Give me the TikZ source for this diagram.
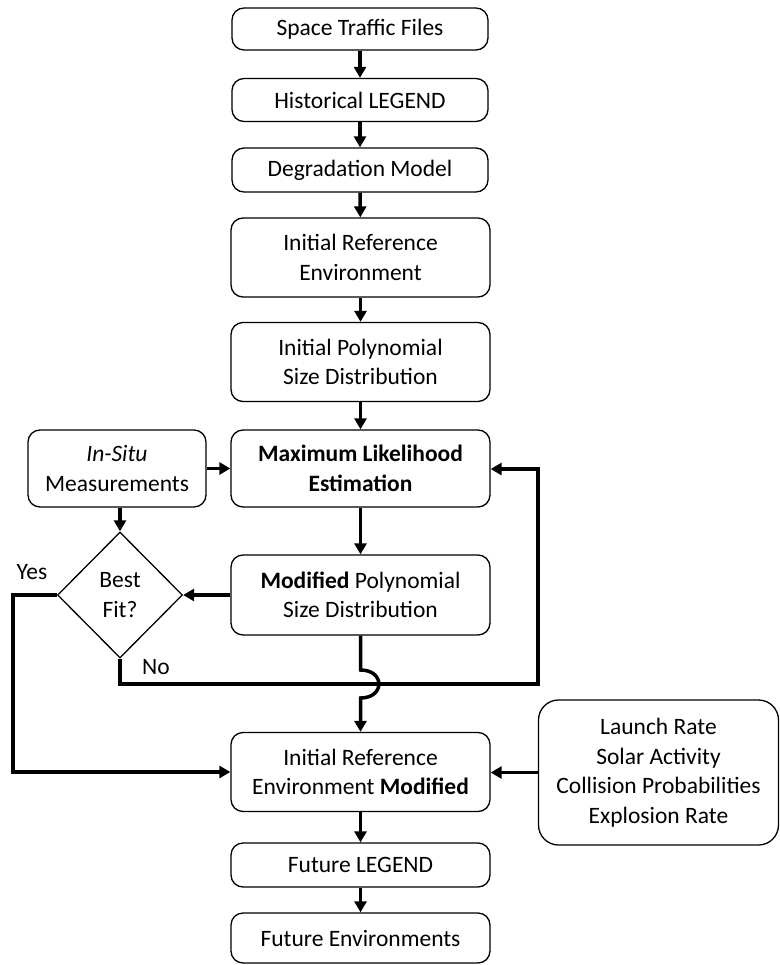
\documentclass[tikz,border=0pt]{standalone}
\usepackage{fontspec}
\setmainfont{Carlito}
\usetikzlibrary{shapes.geometric,arrows.meta}
\begin{document}
\begin{tikzpicture}[x=1pt,y=-1pt,
  box/.style={draw,line width=1.3pt,rounded corners=12pt,align=center,inner sep=2pt,
    font=\fontsize{23.5}{29.5}\selectfont,minimum width=259pt},
  dia/.style={draw,line width=1.3pt,diamond,aspect=1,inner sep=0pt,align=center,
    minimum width=125pt,minimum height=126pt,font=\fontsize{23.5}{29.5}\selectfont},
  lbl/.style={font=\fontsize{23.5}{28}\selectfont,inner sep=0pt},
  conn/.style={line width=3.5pt,-{Triangle[length=11pt,width=12pt]}},
  line/.style={line width=3.5pt}]
\useasboundingbox (0,0) rectangle (779,965);
\node[box,minimum width=256pt,minimum height=42pt] (stf) at (360,29) {Space Traffic Files};
\node[box,minimum width=256pt,minimum height=43pt] (hl) at (360,100) {Historical LEGEND};
\node[box,minimum width=256pt,minimum height=44pt] (dm) at (360,170) {Degradation Model};
\node[box,minimum height=79pt] (ire) at (360.5,257.5) {Initial Reference\\Environment};
\node[box,minimum height=79pt] (ipsd) at (360.5,362) {Initial Polynomial\\Size Distribution};
\node[box,minimum height=77pt] (mle) at (360.5,468.5) {\textbf{Maximum Likelihood}\\\textbf{Estimation}};
\node[box,minimum width=178pt,minimum height=77pt] (ism) at (117,468.5) {\textit{In-Situ}\\Measurements};
\node[dia] (bf) at (120,595) {Best\\Fit?};
\node[box,minimum height=80pt] (mpsd) at (360.5,595) {\textbf{Modified} Polynomial\\Size Distribution};
\node[box,minimum height=79pt] (irem) at (360.5,772) {Initial Reference\\Environment \textbf{Modified}};
\node[box,rounded corners=20pt,minimum width=240pt,minimum height=145pt] (rb) at (658.5,772.5) {Launch Rate\\Solar Activity\\Collision Probabilities\\Explosion Rate};
\node[box,minimum height=44pt] (fl) at (360.5,865) {Future LEGEND};
\node[box,minimum height=50pt] (fe) at (360.5,938) {Future Environments};
\node[lbl] (yes) at (32,572) {Yes};
\node[lbl] (no) at (156,667) {No};
\coordinate (yc1) at (13,595);
\coordinate (yc2) at (13,772);
\coordinate (nc1) at (120,684);
\coordinate (nc2) at (538,684);
\coordinate (nc3) at (538,469);
\coordinate (h1) at (360.5,670);
\coordinate (h2) at (360.5,698);
\draw[conn] (stf) -- (hl);
\draw[conn] (hl) -- (dm);
\draw[conn] (dm) -- (ire);
\draw[conn] (ire) -- (ipsd);
\draw[conn] (ipsd) -- (mle);
\draw[conn] (ism) -- (mle);
\draw[conn] (bf.north |- ism.south) -- (bf.north);
\draw[conn] (mle) -- (mpsd);
\draw[conn] (mpsd) -- (bf.east);
\draw[conn] (bf.west) -- (yc1) -- (yc2) -- (irem.west);
\draw[conn] (bf.south) -- (nc1) -- (nc2) -- (nc3) -- (mle.east |- nc3);
\draw[conn] (mpsd.south) -- (h1) .. controls (385,670) and (385,698) .. (h2) -- (irem.north);
\draw[conn] (rb.west) -- (irem.east |- rb.west);
\draw[conn] (irem) -- (fl);
\draw[conn] (fl) -- (fe);
\end{tikzpicture}
\end{document}
